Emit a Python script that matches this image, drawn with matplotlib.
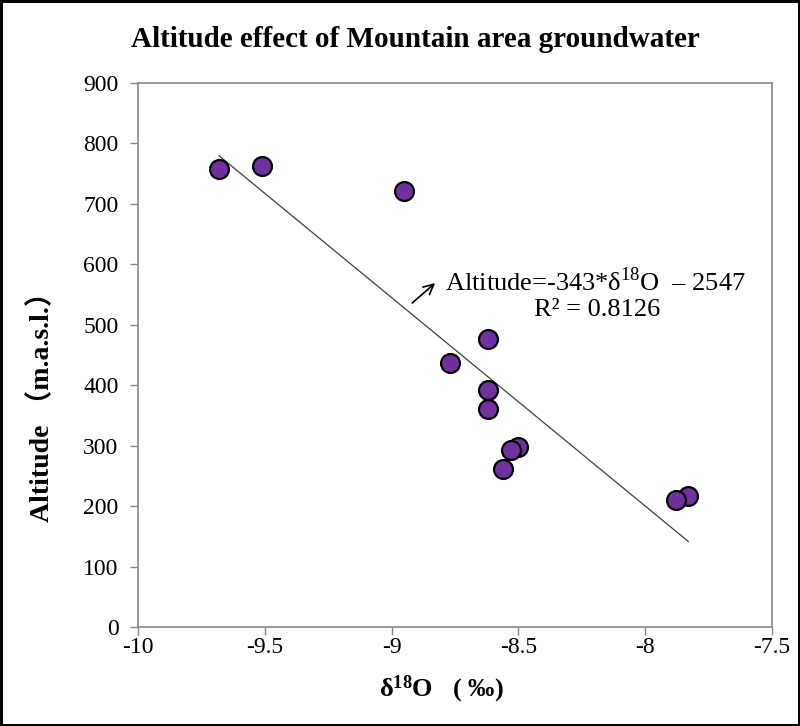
import numpy as np
import matplotlib
matplotlib.use('Agg')
from matplotlib import pyplot as plt

# data
d18O = [-9.68, -9.51, -8.95, -8.77, -8.62, -8.62, -8.62, -8.50, -8.53, -8.56, -7.83, -7.88]
altitude = [757, 762, 722, 436, 477, 392, 360, 297, 292, 262, 217, 210]
xTicks = [-10, -9.5, -9, -8.5, -8, -7.5]
yTicks = [0, 100, 200, 300, 400, 500, 600, 700, 800, 900]

plt.rcParams['font.family'] = ['Liberation Serif', 'Noto Sans CJK SC', 'DejaVu Sans']
plt.rcParams['mathtext.fontset'] = 'custom'
plt.rcParams['mathtext.rm'] = 'Liberation Serif'
plt.rcParams['mathtext.bf'] = 'Liberation Serif:bold'

fig = plt.figure(figsize=(8, 7.26), dpi=100, linewidth=2.5, edgecolor='black')
ax = fig.add_axes([0.1725, 0.1364, 0.7925, 0.7493])

# trend line
k, b = np.polyfit(d18O, altitude, 1)
xl = np.array([min(d18O), max(d18O)])
ax.plot(xl, k*xl + b, color='#404040', linewidth=0.9, zorder=2)

ax.scatter(d18O, altitude, s=185, color='#7030A0', edgecolors='black', linewidths=1.6, zorder=3)

ax.set_xlim(-10, -7.5)
ax.set_ylim(0, 900)
ax.set_xticks(xTicks)
ax.set_xticklabels(['-10', '-9.5', '-9', '-8.5', '-8', '-7.5'])
ax.set_yticks(yTicks)
ax.tick_params(direction='out', length=6, width=1, color='#868686', labelsize=17)
ax.tick_params(axis='x', pad=1)
ax.tick_params(axis='y', pad=8)
for s in ax.spines.values():
    s.set_color('#868686')
    s.set_linewidth(1.2)

# equation
ax.annotate('', xy=(-8.82, 572), xytext=(-8.927, 533),
            arrowprops=dict(arrowstyle='->', color='black', lw=1.2, mutation_scale=18))
ax.text(-8.79, 572, 'Altitude=-343*δ$^{18}$O  – 2547', fontsize=19, va='center', ha='left')
ax.text(-8.19, 524, 'R² = 0.8126', fontsize=19, va='center', ha='center')

fig.text(0.519, 0.945, 'Altitude effect of Mountain area groundwater', fontsize=21,
         fontweight='bold', ha='center', va='center')
fig.text(0.552, 0.05, 'δ$\\mathbf{^{18}}$O   ( ‰)', fontsize=19, fontweight='bold',
         ha='center', va='center')
fig.text(0.0525, 0.449, 'Altitude （m.a.s.l.）', fontsize=20, fontweight='bold',
         ha='center', va='center', rotation=90)

fig.savefig('out.png', dpi=100)
